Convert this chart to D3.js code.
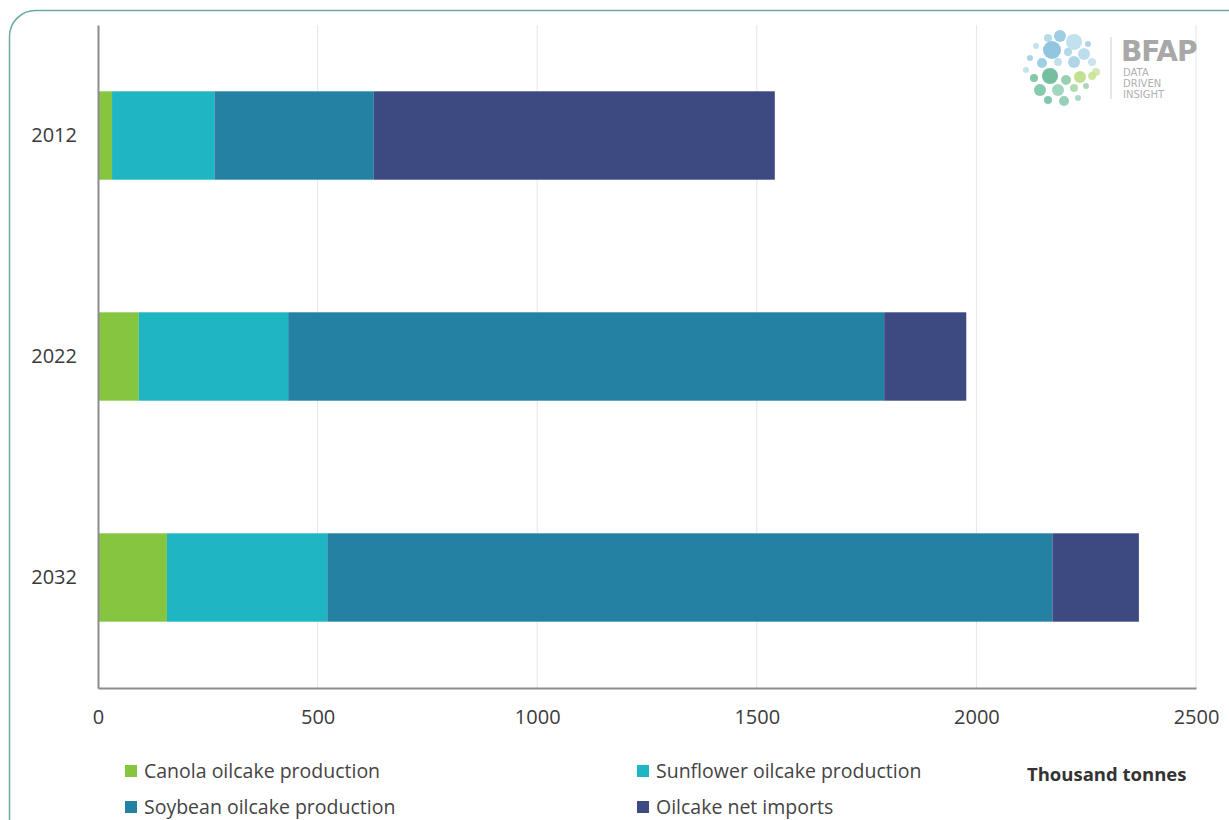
<!DOCTYPE html>
<html>
<head>
<meta charset="utf-8">
<script src="https://cdn.jsdelivr.net/npm/d3@7"></script>
<style>
  html, body { margin: 0; padding: 0; background: #fff; }
  svg { display: block; font-family: "Open Sans", sans-serif; }
</style>
</head>
<body>
<svg id="chart" width="1229" height="820"></svg>
<script>
// ---- data ----
const years = ["2012", "2022", "2032"];
const seriesNames = ["Canola oilcake production", "Sunflower oilcake production", "Soybean oilcake production", "Oilcake net imports"];
const canola    = [32, 93, 157];
const sunflower = [233, 340, 365];
const soybean   = [363, 1357, 1651];
const imports   = [913, 187, 197];
const xTicks = [0, 500, 1000, 1500, 2000, 2500];
const unitLabel = "Thousand tonnes";
const colors = ["#86c540", "#1db6c2", "#2382a4", "#3d4a82"];

// logo dots (decorative)
const logoDots = [
  [1048,38,4,"#a9d3e6"],[1060,36,6,"#8ec6df"],[1074,42,8,"#b5dcea"],[1088,44,3,"#9fd0e4"],
  [1036,46,3,"#b8dcea"],[1052,50,9,"#7fbcd9"],[1068,52,4,"#a7d2e5"],[1084,54,6,"#b0d7e7"],
  [1030,58,3,"#9ccde2"],[1042,63,5,"#8fc5dd"],[1058,62,4,"#b7dbe9"],[1074,62,6,"#a1cfe3"],[1092,62,4,"#c0e0ec"],
  [1026,70,3,"#bcdde9"],[1096,72,4,"#c8e5a8"],
  [1034,78,4,"#6fbf98"],[1050,76,8,"#5db38f"],[1066,80,5,"#8ac7a4"],[1080,77,6,"#b6dc7e"],[1092,76,4,"#c5e38e"],
  [1040,90,6,"#72c19f"],[1058,90,6,"#8fcfb0"],[1074,88,4,"#a5d6a1"],[1086,86,3,"#9fd1aa"],
  [1048,100,4,"#6fbe9d"],[1064,101,5,"#85c8ab"],[1078,98,3,"#9dd2b4"]
];

const svg = d3.select("#chart");

// rounded border
svg.append("rect")
  .attr("x", 9.5).attr("y", 10.5)
  .attr("width", 1260).attr("height", 860)
  .attr("rx", 26).attr("ry", 26)
  .attr("fill", "none").attr("stroke", "#6aaba3").attr("stroke-width", 1.5);

const margin = {left: 98, right: 1196, top: 25, bottom: 688};
const x = d3.scaleLinear().domain([0, 2500]).range([margin.left, margin.right]);
const y = d3.scaleBand().domain(years).range([margin.top, margin.bottom]).paddingInner(0.6).paddingOuter(0.3);

// gridlines
svg.append("g").selectAll("line")
  .data(xTicks.filter(d => d > 0))
  .join("line")
  .attr("x1", d => x(d)).attr("x2", d => x(d))
  .attr("y1", margin.top).attr("y2", margin.bottom)
  .attr("stroke", "#e6e6e6").attr("stroke-width", 1);

// stacked data
const table = years.map((yr, i) => ({
  year: yr,
  [seriesNames[0]]: canola[i],
  [seriesNames[1]]: sunflower[i],
  [seriesNames[2]]: soybean[i],
  [seriesNames[3]]: imports[i]
}));
const stacked = d3.stack().keys(seriesNames)(table);
const color = d3.scaleOrdinal().domain(seriesNames).range(colors);

svg.append("g").selectAll("g")
  .data(stacked)
  .join("g")
  .attr("fill", d => color(d.key))
  .selectAll("rect")
  .data(d => d)
  .join("rect")
  .attr("x", d => x(d[0]))
  .attr("width", d => x(d[1]) - x(d[0]))
  .attr("y", d => y(d.data.year))
  .attr("height", y.bandwidth());

// axes
const xAxis = d3.axisBottom(x).tickValues(xTicks).tickSize(0).tickPadding(22).tickFormat(d3.format("d"));
const gx = svg.append("g").attr("transform", `translate(0,${margin.bottom})`).call(xAxis);
gx.select(".domain").attr("stroke", "#8c8c8c").attr("stroke-width", 2);
gx.selectAll("text").attr("font-size", 20).attr("fill", "#3a3a3a").attr("font-family", "Open Sans, sans-serif");

const yAxis = d3.axisLeft(y).tickSize(0).tickPadding(21);
const gy = svg.append("g").attr("transform", `translate(${margin.left},0)`).call(yAxis);
gy.select(".domain").attr("stroke", "#8c8c8c").attr("stroke-width", 2);
gy.selectAll("text").attr("font-size", 20).attr("fill", "#3a3a3a").attr("font-family", "Open Sans, sans-serif");

// legend
const legendPos = [[125, 771], [637, 771], [125, 807], [637, 807]];
const lg = svg.append("g").selectAll("g")
  .data(seriesNames)
  .join("g")
  .attr("transform", (d, i) => `translate(${legendPos[i][0]},${legendPos[i][1]})`);
lg.append("rect").attr("x", 0).attr("y", -6).attr("width", 12).attr("height", 12).attr("fill", d => color(d));
lg.append("text").attr("x", 19).attr("y", 7).attr("font-size", 19.5).attr("fill", "#444")
  .text(d => d);

svg.append("text").attr("x", 1027).attr("y", 781)
  .attr("font-size", 18.5).attr("font-weight", "bold").attr("fill", "#333")
  .text(unitLabel);

// logo
const logo = svg.append("g");
logo.selectAll("circle").data(logoDots).join("circle")
  .attr("cx", d => d[0]).attr("cy", d => d[1]).attr("r", d => d[2])
  .attr("fill", d => d[3]).attr("opacity", 0.85);
logo.append("line").attr("x1", 1111).attr("x2", 1111).attr("y1", 37).attr("y2", 99)
  .attr("stroke", "#d0d0d0").attr("stroke-width", 1);
logo.append("text").attr("x", 1121).attr("y", 61).attr("font-size", 28).attr("font-weight", "bold")
  .attr("fill", "#a8a8a8").attr("font-family", "DejaVu Sans, sans-serif").attr("letter-spacing", -1).text("BFAP");
["DATA", "DRIVEN", "INSIGHT"].forEach((t, i) => {
  logo.append("text").attr("x", 1123).attr("y", 76 + i * 11).attr("font-size", 10)
    .attr("fill", "#b0b0b0").attr("font-family", "DejaVu Sans, sans-serif").text(t);
});
</script>
</body>
</html>
